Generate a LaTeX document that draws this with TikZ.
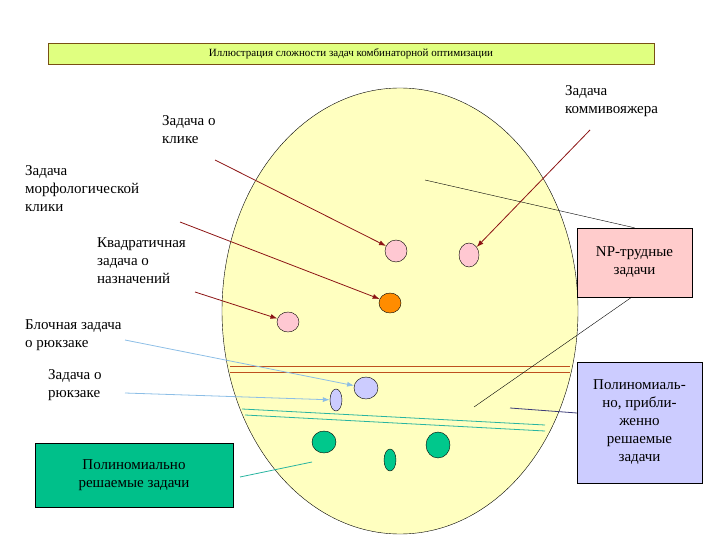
\documentclass[tikz,border=0pt]{standalone}
\usepackage{fontspec}
\setmainfont{Liberation Serif}
\usetikzlibrary{arrows.meta,shapes.geometric}
\definecolor{ttlfill}{RGB}{224,255,128}
\definecolor{ttlline}{RGB}{120,80,20}
\definecolor{ellfill}{RGB}{255,255,192}
\definecolor{pinkc}{RGB}{255,200,210}
\definecolor{orangec}{RGB}{255,140,0}
\definecolor{lavc}{RGB}{204,204,255}
\definecolor{greenc}{RGB}{0,200,140}
\definecolor{gboxc}{RGB}{0,192,138}
\definecolor{npc}{RGB}{255,204,204}
\definecolor{redln}{RGB}{190,80,30}
\definecolor{arrred}{RGB}{140,20,20}
\definecolor{arrblue}{RGB}{140,190,230}
\definecolor{tealc}{RGB}{40,180,160}
\definecolor{navyc}{RGB}{60,60,120}
\begin{document}
\begin{tikzpicture}[x=1pt,y=-1pt,
  txt/.style={font=\fontsize{15}{18}\selectfont,align=left,inner sep=0pt},
  ctxt/.style={font=\fontsize{15}{18}\selectfont,align=center},
  dot/.style={draw=black,thin,ellipse,inner sep=0pt},
  redarr/.style={-{Latex[length=7pt,width=5pt]},draw=arrred,thick},
  bluearr/.style={-{Latex[length=7pt,width=5pt]},draw=arrblue,thick},
  tealline/.style={draw=tealc,thick}]
\useasboundingbox (0,0) rectangle (720,540);
\node[draw=ttlline,fill=ttlfill,minimum width=606pt,minimum height=21pt,inner sep=0pt,font=\fontsize{11}{13}\selectfont] (title) at (351,53.5) {Иллюстрация сложности задач комбинаторной оптимизации};
\draw[fill=ellfill] (400,311) ellipse [x radius=178, y radius=223];
\node[dot,fill=pinkc,minimum width=22pt,minimum height=22pt] (p1) at (396,251) {};
\node[dot,fill=pinkc,minimum width=20pt,minimum height=24pt] (p2) at (469,255) {};
\node[dot,fill=orangec,minimum width=22pt,minimum height=20pt] (o1) at (390,303) {};
\node[dot,fill=pinkc,minimum width=22pt,minimum height=20pt] (p3) at (288,322) {};
\node[dot,fill=lavc,minimum width=24pt,minimum height=22pt] (l1) at (366,388) {};
\node[dot,fill=lavc,minimum width=12pt,minimum height=22pt] (l2) at (336,400) {};
\node[dot,fill=greenc,minimum width=24pt,minimum height=22pt] (g1) at (324,442) {};
\node[dot,fill=greenc,minimum width=12pt,minimum height=22pt] (g2) at (390,460) {};
\node[dot,fill=greenc,minimum width=24pt,minimum height=26pt] (g3) at (438,445) {};
\draw[draw=redln] (230,366) -- (570,366) (230,372) -- (570,372);
\draw[tealline] (242,409) -- (545,425) (245,415) -- (545,431);
\node[txt,anchor=north west] (t1) at (162,115) {Задача о\\клике};
\node[txt,anchor=north west] (t2) at (25,165) {Задача\\морфологической\\клики};
\node[txt,anchor=north west] (t3) at (97,237) {Квадратичная\\задача о\\назначений};
\node[txt,anchor=north west] (t4) at (25,319) {Блочная задача\\о рюкзаке};
\node[txt,anchor=north west] (t5) at (48,369) {Задача о\\рюкзаке};
\node[txt,anchor=north west] (t6) at (565,85) {Задача\\коммивояжера};
\coordinate (a1) at (215,160);
\coordinate (a2) at (180,222);
\coordinate (a3) at (195,292);
\coordinate (a4) at (125,340);
\coordinate (a5) at (125,393);
\coordinate (a6) at (590,130);
\draw[redarr] (a1) -- (p1);
\draw[redarr] (a2) -- (o1);
\draw[redarr] (a3) -- (p3);
\draw[redarr] (a6) -- (p2);
\draw[bluearr] (a4) -- (l1);
\draw[bluearr] (a5) -- (l2);
\node[draw,fill=gboxc,minimum width=198pt,minimum height=64pt,ctxt] (gb) at (134,475) {Полиномиально\\решаемые задачи};
\node[draw,fill=npc,minimum width=115pt,minimum height=69pt,ctxt] (np) at (634.5,262.5) {NP-трудные\\задачи};
\node[draw,fill=lavc,minimum width=125pt,minimum height=121pt,ctxt,inner sep=0pt] (lb) at (639.5,422.5) {Полиномиаль-\\но, прибли-\\женно\\решаемые\\задачи};
\coordinate (c1) at (425,180);
\coordinate (c2) at (474,407);
\coordinate (c3) at (510,408);
\coordinate (c4) at (312,462);
\coordinate (e2) at (632,297);
\coordinate (e3) at (577,413);
\coordinate (e4) at (240,477);
\draw (c1) -- (np.north);
\draw (c2) -- (e2);
\draw[draw=navyc,thick] (c3) -- (e3);
\draw[tealline] (c4) -- (e4);
\end{tikzpicture}
\end{document}
